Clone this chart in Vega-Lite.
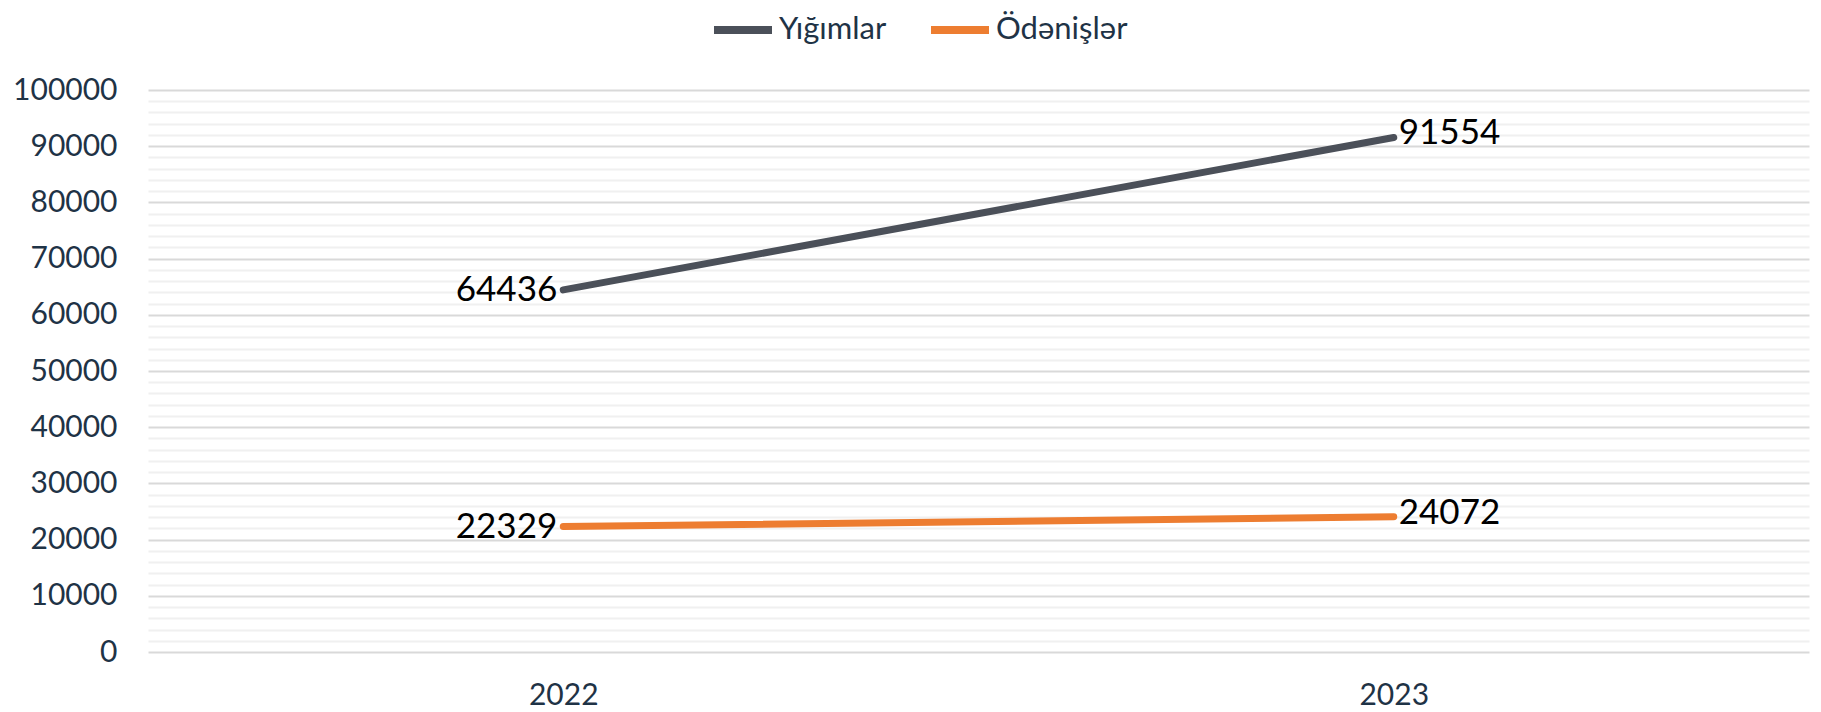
{
  "$schema": "https://vega.github.io/schema/vega-lite/v6.json",
  "autosize": {"type": "none"},
  "width": 1661,
  "height": 562,
  "padding": {"left": 148, "top": 90, "right": 12, "bottom": 60},
  "background": "white",
  "config": {
    "view": {"stroke": null},
    "font": "Lato"
  },
  "data": {
    "values": [
      {"year": "2022", "series": "Yığımlar", "value": 64436},
      {"year": "2023", "series": "Yığımlar", "value": 91554},
      {"year": "2022", "series": "Ödənişlər", "value": 22329},
      {"year": "2023", "series": "Ödənişlər", "value": 24072}
    ]
  },
  "encoding": {
    "x": {
      "field": "year", "type": "ordinal",
      "scale": {"type": "point", "padding": 0.5},
      "axis": {
        "title": null, "labelAngle": 0, "domain": false, "ticks": false, "tickSize": 0,
        "labelPadding": 28, "labelFontSize": 30, "labelColor": "#1f3346", "labelFont": "Lato"
      }
    },
    "y": {
      "field": "value", "type": "quantitative",
      "scale": {"domain": [0, 100000], "nice": false},
      "axis": {
        "title": null, "domain": false, "ticks": false, "tickSize": 0,
        "values": [0,2000,4000,6000,8000,10000,12000,14000,16000,18000,20000,22000,24000,26000,28000,30000,32000,34000,36000,38000,40000,42000,44000,46000,48000,50000,52000,54000,56000,58000,60000,62000,64000,66000,68000,70000,72000,74000,76000,78000,80000,82000,84000,86000,88000,90000,92000,94000,96000,98000,100000],
        "format": "d",
        "labelExpr": "datum.value % 10000 === 0 ? datum.label : ''",
        "gridColor": {"condition": {"test": "datum.value % 10000 === 0", "value": "#d9d9d9"}, "value": "#f0f0f0"},
        "gridWidth": 2,
        "labelPadding": 31, "labelFontSize": 30, "labelColor": "#1f3346", "labelFont": "Lato"
      }
    },
    "color": {
      "field": "series", "type": "nominal",
      "sort": ["Yığımlar", "Ödənişlər"],
      "scale": {"domain": ["Yığımlar", "Ödənişlər"], "range": ["#4b5059", "#ed7d31"]},
      "legend": {
        "title": null, "orient": "none", "direction": "horizontal",
        "legendX": 562, "legendY": -93,
        "symbolType": "stroke", "symbolSize": 3364, "symbolStrokeWidth": 8,
        "labelFontSize": 31, "labelColor": "#1f3346", "labelFont": "Lato",
        "labelOffset": 3, "columnPadding": 28
      }
    }
  },
  "layer": [
    {
      "mark": {"type": "line", "strokeWidth": 7, "strokeCap": "round"}
    },
    {
      "transform": [{"filter": "datum.year === '2022'"}],
      "mark": {"type": "text", "align": "right", "baseline": "middle", "dx": -6, "dy": 0, "fontSize": 35, "color": "#000000", "font": "Lato"},
      "encoding": {"text": {"field": "value", "type": "quantitative", "format": "d"}, "color": {"value": "#000000"}}
    },
    {
      "transform": [{"filter": "datum.year === '2023'"}],
      "mark": {"type": "text", "align": "left", "baseline": "middle", "dx": 5, "dy": -4, "fontSize": 35, "color": "#000000", "font": "Lato"},
      "encoding": {"text": {"field": "value", "type": "quantitative", "format": "d"}, "color": {"value": "#000000"}}
    }
  ]
}
